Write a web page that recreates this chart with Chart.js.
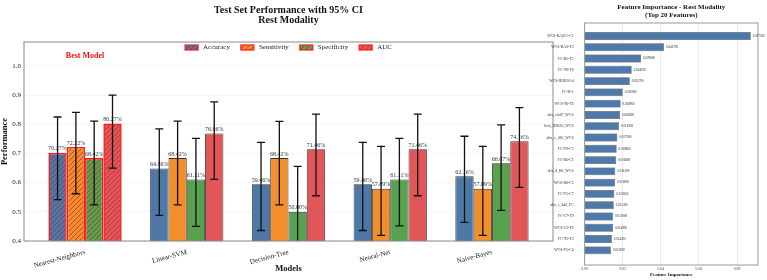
<!DOCTYPE html>
<html>
<head>
<meta charset="utf-8">
<script src="https://cdn.jsdelivr.net/npm/chart.js@4.4.0/dist/chart.umd.min.js"></script>
<style>
  body { margin: 0; background: #fff; }
  #wrap { position: relative; width: 767px; height: 280px; }
  canvas { position: absolute; top: 0; }
  #perf { left: 0; }
  #feat { left: 530px; }
</style>
</head>
<body>
<div id="wrap">
  <canvas id="perf" width="560" height="280"></canvas>
  <canvas id="feat" width="237" height="280"></canvas>
</div>
<script>
// models and test-set scores
const models = ['Nearest-Neighbors', 'Linear-SVM', 'Decision-Tree', 'Neural-Net', 'Naive-Bayes'];
const accuracy    = [0.7027, 0.6486, 0.5946, 0.5946, 0.6216];
const sensitivity = [0.7222, 0.6842, 0.6842, 0.5789, 0.5789];
const specificity = [0.6842, 0.6111, 0.5000, 0.6111, 0.6667];
const auc         = [0.8027, 0.7686, 0.7146, 0.7146, 0.7416];

// 95% CI bounds
const accLow   = [0.542, 0.488, 0.436, 0.436, 0.464];
const accHigh  = [0.825, 0.784, 0.738, 0.738, 0.759];
const sensLow  = [0.562, 0.524, 0.524, 0.419, 0.419];
const sensHigh = [0.841, 0.811, 0.810, 0.724, 0.724];
const specLow  = [0.524, 0.450, 0.344, 0.452, 0.505];
const specHigh = [0.811, 0.752, 0.656, 0.752, 0.798];
const aucLow   = [0.650, 0.611, 0.555, 0.555, 0.584];
const aucHigh  = [0.900, 0.877, 0.835, 0.835, 0.857];

const metricNames = ['Accuracy', 'Sensitivity', 'Specificity', 'AUC'];
const metricColors = ['#4e79a7', '#f28e2b', '#59a14f', '#e15759'];
const bestIndex = 0;
const perfTitle = ['Test Set Performance with 95% CI', 'Rest Modality'];
const yTicks = [0.4, 0.5, 0.6, 0.7, 0.8, 0.9, 1.0];

// feature importance (top 20)
const features = ['WCS-RAS21-C1', 'WCS-RAS-T3', 'FC-R5-T5', 'FC-T6-T6', 'WCS-HOR16-4',
  'FC-R-1', 'WCS-T6-T6', 'alfa_clu67_WCS', 'beta_H0R16_WCS', 'alfa_c_d16_WCS',
  'FC-T9-C3', 'FC-R6-C1', 'alfa_d_R6_WCS', 'WCS-R6-C3', 'FC-T5-C7',
  'alfa_c_d46_FC', 'FC-C7-T9', 'WCS-C5-T6', 'FC-T5-T3', 'WCS-T5-C4'];
const importance = [0.0872, 0.0417, 0.0296, 0.0247, 0.0237, 0.0200, 0.0189, 0.0186, 0.0181, 0.0172,
  0.0168, 0.0166, 0.0161, 0.0160, 0.0156, 0.0153, 0.0150, 0.0149, 0.0143, 0.0138];
const featTitle = ['Feature Importance - Rest Modality', '(Top 20 Features)'];
const featTicks = [0, 0.02, 0.04, 0.06, 0.08];

const serif = '"Liberation Serif", "Times New Roman", serif';
const series = [accuracy, sensitivity, specificity, auc];
const lows = [accLow, sensLow, specLow, aucLow];
const highs = [accHigh, sensHigh, specHigh, aucHigh];

// diagonal hatch like matplotlib '///'
function hatch(color) {
  const c = document.createElement('canvas');
  c.width = 5; c.height = 5;
  const g = c.getContext('2d');
  g.fillStyle = color;
  g.fillRect(0, 0, 5, 5);
  g.strokeStyle = 'rgba(170,20,30,0.75)';
  g.lineWidth = 0.8;
  g.beginPath();
  g.moveTo(0, 5); g.lineTo(5, 0);
  g.moveTo(-1, 1); g.lineTo(1, -1);
  g.moveTo(4, 6); g.lineTo(6, 4);
  g.stroke();
  return g.createPattern(c, 'repeat');
}

function frame(color) {
  return {
    id: 'frame',
    afterDraw(chart) {
      const { ctx, chartArea: a } = chart;
      ctx.save();
      ctx.strokeStyle = color;
      ctx.lineWidth = 1;
      ctx.strokeRect(a.left, a.top, a.right - a.left, a.bottom - a.top);
      ctx.restore();
    }
  };
}

function titles(lines, size, ys) {
  return {
    id: 'titles',
    afterDraw(chart) {
      const { ctx, chartArea: a } = chart;
      ctx.save();
      ctx.fillStyle = '#111';
      ctx.font = 'bold ' + size + 'px ' + serif;
      ctx.textAlign = 'center';
      ctx.textBaseline = 'middle';
      lines.forEach((t, k) => ctx.fillText(t, (a.left + a.right) / 2, ys[k]));
      ctx.restore();
    }
  };
}

const errorBars = {
  id: 'errorBars',
  afterDatasetsDraw(chart) {
    const { ctx, chartArea: a, scales: { x, y } } = chart;
    ctx.save();
    // percent labels
    ctx.fillStyle = '#333';
    ctx.font = '6px ' + serif;
    ctx.textAlign = 'center';
    ctx.textBaseline = 'bottom';
    series.forEach((vals, s) => {
      chart.getDatasetMeta(s).data.forEach((bar, i) => {
        ctx.fillText((vals[i] * 100).toFixed(2) + '%', bar.x, bar.y - 1);
      });
    });
    // CI whiskers
    ctx.beginPath();
    ctx.rect(a.left, a.top, a.right - a.left, a.bottom - a.top);
    ctx.clip();
    ctx.strokeStyle = '#111';
    ctx.lineWidth = 1.3;
    series.forEach((vals, s) => {
      chart.getDatasetMeta(s).data.forEach((bar, i) => {
        const lo = y.getPixelForValue(lows[s][i]);
        const hi = y.getPixelForValue(highs[s][i]);
        ctx.beginPath();
        ctx.moveTo(bar.x, lo); ctx.lineTo(bar.x, hi);
        ctx.moveTo(bar.x - 4, lo); ctx.lineTo(bar.x + 4, lo);
        ctx.moveTo(bar.x - 4, hi); ctx.lineTo(bar.x + 4, hi);
        ctx.stroke();
      });
    });
    // best model note
    ctx.fillStyle = '#ee1111';
    ctx.font = 'bold 8px ' + serif;
    ctx.textBaseline = 'middle';
    ctx.fillText('Best Model', x.getPixelForValue(bestIndex), y.getPixelForValue(1.035));
    ctx.restore();
  }
};

// legend inside the top of the plot, in one row
const topLegend = {
  id: 'topLegend',
  afterDraw(chart) {
    const { ctx, chartArea: a } = chart;
    ctx.save();
    ctx.font = '7px ' + serif;
    const boxW = 13, boxH = 5, gap = 5, itemGap = 11;
    const widths = metricNames.map(n => boxW + gap + ctx.measureText(n).width);
    const total = widths.reduce((p, w) => p + w, 0) + itemGap * (metricNames.length - 1);
    let cx = (a.left + a.right) / 2 - total / 2;
    const cy = a.top + 5.5;
    metricNames.forEach((n, k) => {
      ctx.fillStyle = hatch(metricColors[k]);
      ctx.fillRect(cx, cy - boxH / 2, boxW, boxH);
      ctx.strokeStyle = '#ff1a1a';
      ctx.lineWidth = 1.2;
      ctx.strokeRect(cx, cy - boxH / 2, boxW, boxH);
      ctx.fillStyle = '#222';
      ctx.textBaseline = 'middle';
      ctx.fillText(n, cx + boxW + gap, cy);
      cx += widths[k] + itemGap;
    });
    ctx.restore();
  }
};

new Chart(document.getElementById('perf'), {
  type: 'bar',
  data: {
    datasets: series.map((vals, s) => ({
      label: metricNames[s],
      data: vals.map((v, i) => ({ x: i, y: v })),
      backgroundColor: vals.map((v, i) => i === bestIndex ? hatch(metricColors[s]) : metricColors[s]),
      borderColor: vals.map((v, i) => i === bestIndex ? '#ff1a1a' : '#333333'),
      borderWidth: vals.map((v, i) => i === bestIndex ? 1.6 : 0.9),
      categoryPercentage: 0.72,
      barPercentage: 1.0
    }))
  },
  options: {
    responsive: false,
    animation: false,
    layout: { padding: { top: 42, right: 7, left: 0, bottom: 0 } },
    plugins: { legend: { display: false }, tooltip: { enabled: false } },
    scales: {
      x: {
        type: 'linear', min: -0.6, max: 4.6, offset: false,
        afterBuildTicks: s => { s.ticks = models.map((m, i) => ({ value: i })); },
        ticks: { callback: v => models[v], minRotation: 15, maxRotation: 15, autoSkip: false,
          color: '#222', padding: -1, font: { family: serif, size: 7 } },
        grid: { display: false },
        border: { display: false },
        title: { display: true, text: 'Models', color: '#111',
          font: { family: serif, size: 8.5, weight: 'bold' }, padding: { top: 0, bottom: 6 } },
        afterFit: s => { s.height = 39; }
      },
      y: {
        min: 0.4, max: 1.082,
        afterBuildTicks: s => { s.ticks = yTicks.map(v => ({ value: v })); },
        ticks: { callback: v => v.toFixed(1), color: '#222', padding: 3, font: { family: serif, size: 7 } },
        grid: { color: 'rgba(0,0,0,0.13)', lineWidth: 0.6, drawTicks: false },
        border: { display: false, dash: [2, 2] },
        title: { display: true, text: 'Performance', color: '#111',
          font: { family: serif, size: 8.5, weight: 'bold' }, padding: { top: 0, bottom: 0 } },
        afterFit: s => { s.width = 24; }
      }
    }
  },
  plugins: [errorBars, frame('#8a8a8a'), topLegend, titles(perfTitle, 10, [10, 20.5])]
});

const barValues = {
  id: 'barValues',
  afterDatasetsDraw(chart) {
    const { ctx } = chart;
    ctx.save();
    ctx.fillStyle = '#222';
    ctx.font = '3.2px ' + serif;
    ctx.textBaseline = 'middle';
    chart.getDatasetMeta(0).data.forEach((bar, i) => {
      ctx.fillText(importance[i].toFixed(6), bar.x + 2, bar.y);
    });
    ctx.restore();
  }
};

new Chart(document.getElementById('feat'), {
  type: 'bar',
  data: {
    datasets: [{
      data: importance.map((v, i) => ({ x: v, y: i })),
      backgroundColor: '#4f79a8',
      borderColor: '#2b2b2b',
      borderWidth: 0.5,
      categoryPercentage: 1,
      barPercentage: 0.7
    }]
  },
  options: {
    indexAxis: 'y',
    responsive: false,
    animation: false,
    layout: { padding: { top: 23, right: 9, left: 0, bottom: 0 } },
    plugins: { legend: { display: false }, tooltip: { enabled: false } },
    scales: {
      x: {
        type: 'linear', min: 0, max: 0.091,
        afterBuildTicks: s => { s.ticks = featTicks.map(v => ({ value: v })); },
        ticks: { callback: v => v.toFixed(2), maxRotation: 0, color: '#444', padding: 2,
          font: { family: serif, size: 3.8 } },
        grid: { color: '#e2e2e2', lineWidth: 0.7, drawTicks: false },
        border: { display: false },
        title: { display: true, text: 'Feature Importance', color: '#111',
          font: { family: serif, size: 5, weight: 'bold' }, padding: { top: 0, bottom: 2 } },
        afterFit: s => { s.height = 15; }
      },
      y: {
        type: 'linear', reverse: true, min: -1.15, max: 20.3, offset: false,
        afterBuildTicks: s => { s.ticks = features.map((f, i) => ({ value: i })); },
        ticks: { callback: v => features[v], autoSkip: false, color: '#333', padding: 3,
          font: { family: serif, size: 3.8 } },
        grid: { display: false },
        border: { display: false },
        afterFit: s => { s.width = 54.6; }
      }
    }
  },
  plugins: [barValues, frame('#9a9a9a'), titles(featTitle, 7, [7, 15])]
});
</script>
</body>
</html>
